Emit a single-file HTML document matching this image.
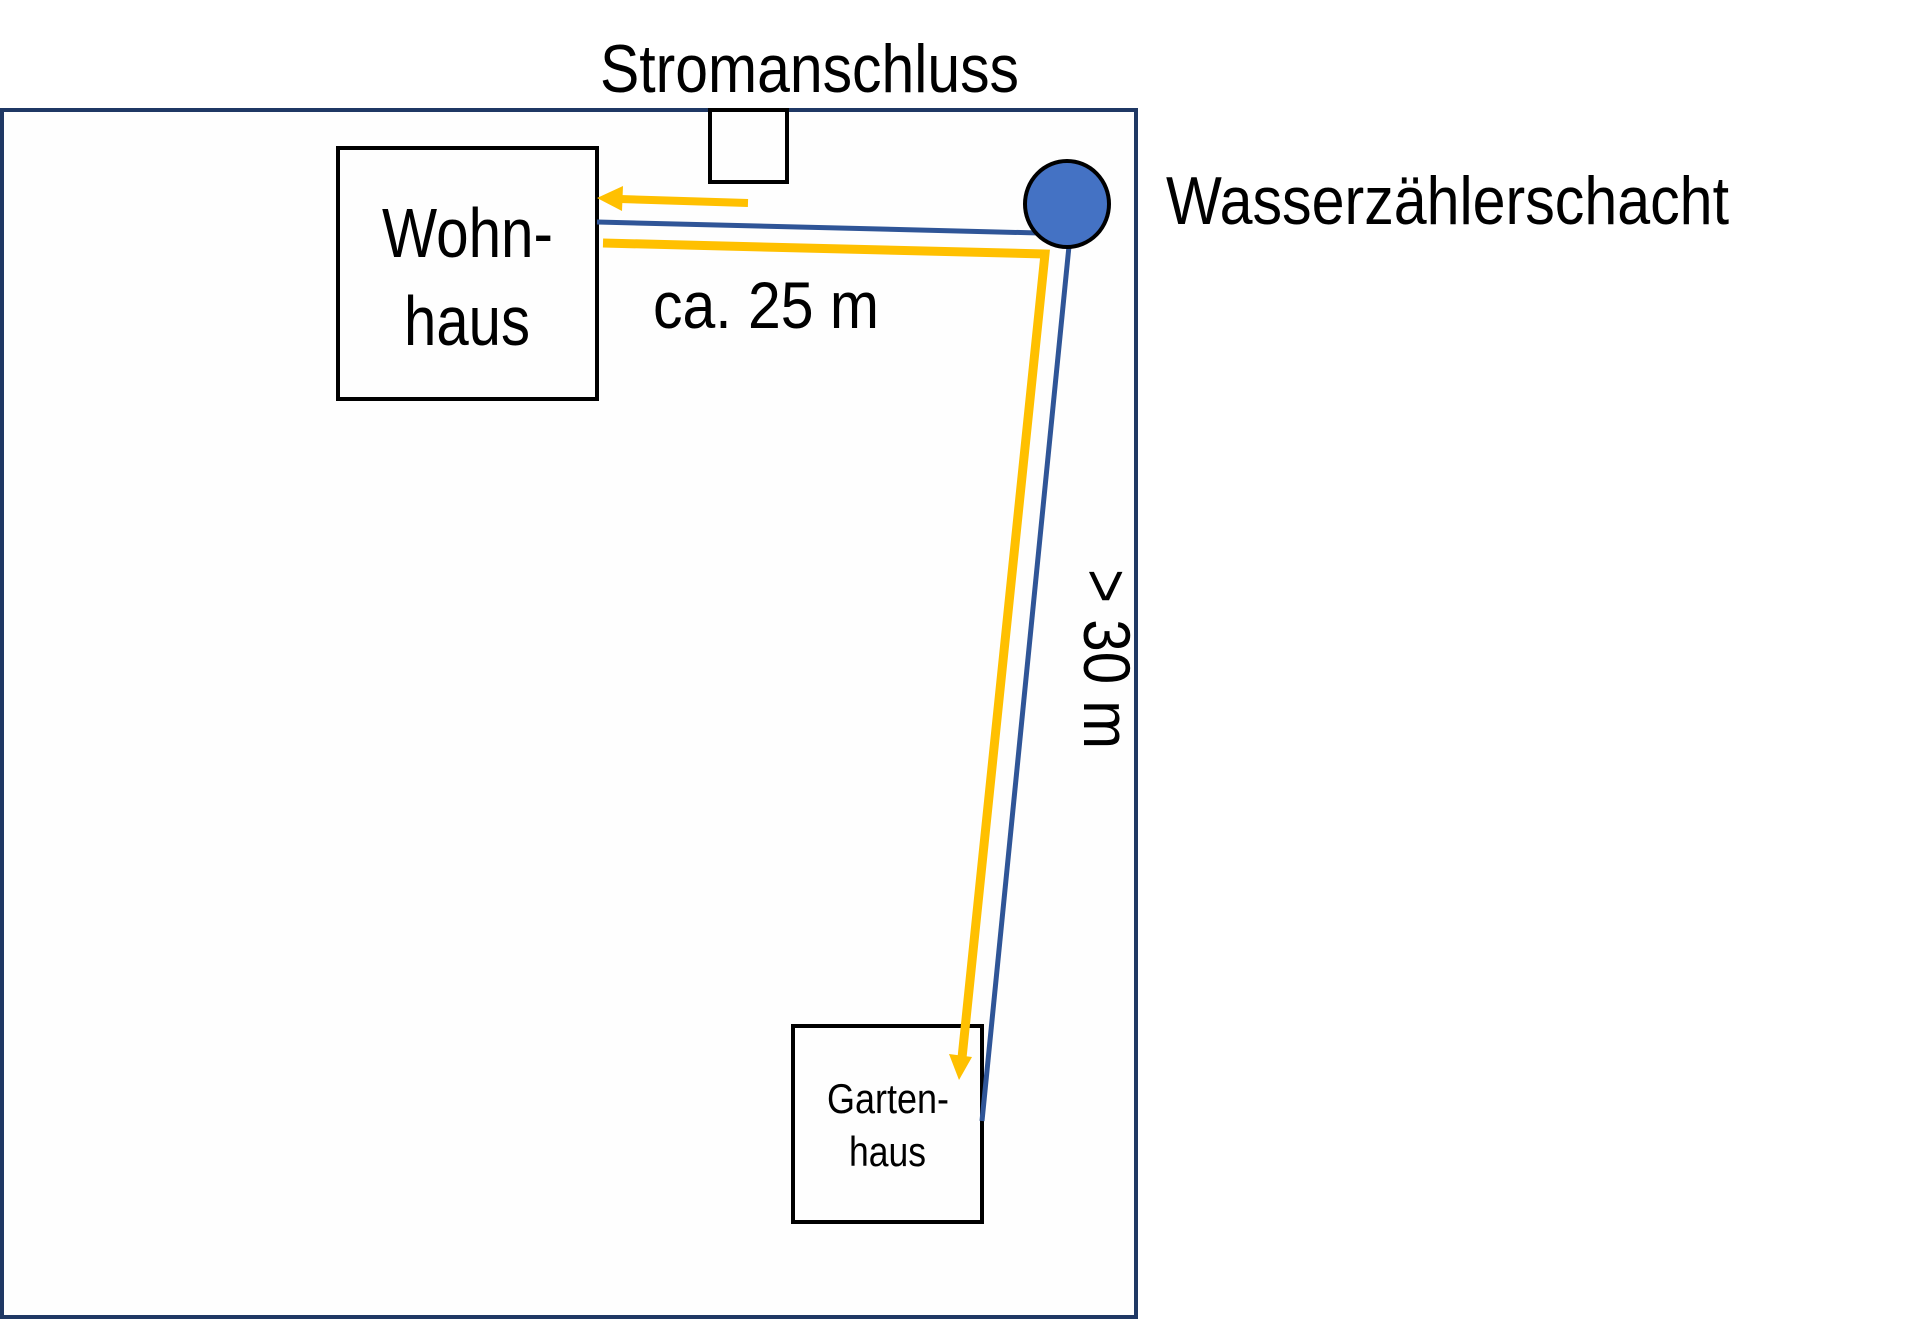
<!DOCTYPE html>
<html><head><meta charset="utf-8"><style>html,body{margin:0;padding:0;background:#fff}svg{display:block}</style></head>
<body>
<svg width="1920" height="1321" viewBox="0 0 1920 1321" xmlns="http://www.w3.org/2000/svg" font-family="Liberation Sans Narrow, Liberation Sans, sans-serif">
<rect x="2" y="110" width="1134" height="1207" fill="#fefefe" stroke="#1f3864" stroke-width="4"/>
<rect x="710" y="110" width="77" height="72" fill="none" stroke="#000" stroke-width="4"/>
<rect x="338" y="148" width="259" height="251" fill="none" stroke="#000" stroke-width="4"/>
<rect x="793" y="1026" width="189" height="196" fill="none" stroke="#000" stroke-width="4"/>
<polyline points="597,222 1039,233" fill="none" stroke="#2f5597" stroke-width="5"/>
<polyline points="1069,246 982,1121" fill="none" stroke="#2f5597" stroke-width="5"/>
<polyline points="603,243 1045,254 962,1058" fill="none" stroke="#ffc000" stroke-width="9"/>
<polygon points="959,1080 949,1054 972,1057" fill="#ffc000"/>
<line x1="748" y1="203" x2="620" y2="199" stroke="#ffc000" stroke-width="8"/>
<polygon points="597,198 623,186 622,211" fill="#ffc000"/>
<ellipse cx="1067" cy="204" rx="42" ry="43" fill="#4472c4" stroke="#000" stroke-width="4"/>
<g fill="#000">
<text x="600" y="92" font-size="68" textLength="419" lengthAdjust="spacingAndGlyphs">Stromanschluss</text>
<text x="1166" y="224" font-size="68" textLength="563" lengthAdjust="spacingAndGlyphs">Wasserzählerschacht</text>
<text x="382" y="257" font-size="70" textLength="171" lengthAdjust="spacingAndGlyphs">Wohn-</text>
<text x="404" y="345" font-size="70" textLength="126" lengthAdjust="spacingAndGlyphs">haus</text>
<text x="653" y="328" font-size="66" textLength="226" lengthAdjust="spacingAndGlyphs">ca. 25 m</text>
<text x="827" y="1113" font-size="42" textLength="122" lengthAdjust="spacingAndGlyphs">Garten-</text>
<text x="849" y="1166" font-size="42" textLength="77" lengthAdjust="spacingAndGlyphs">haus</text>
<text transform="translate(1084,569) rotate(90)" font-size="66" textLength="180" lengthAdjust="spacingAndGlyphs">&gt; 30 m</text>
</g>
</svg>
</body></html>
